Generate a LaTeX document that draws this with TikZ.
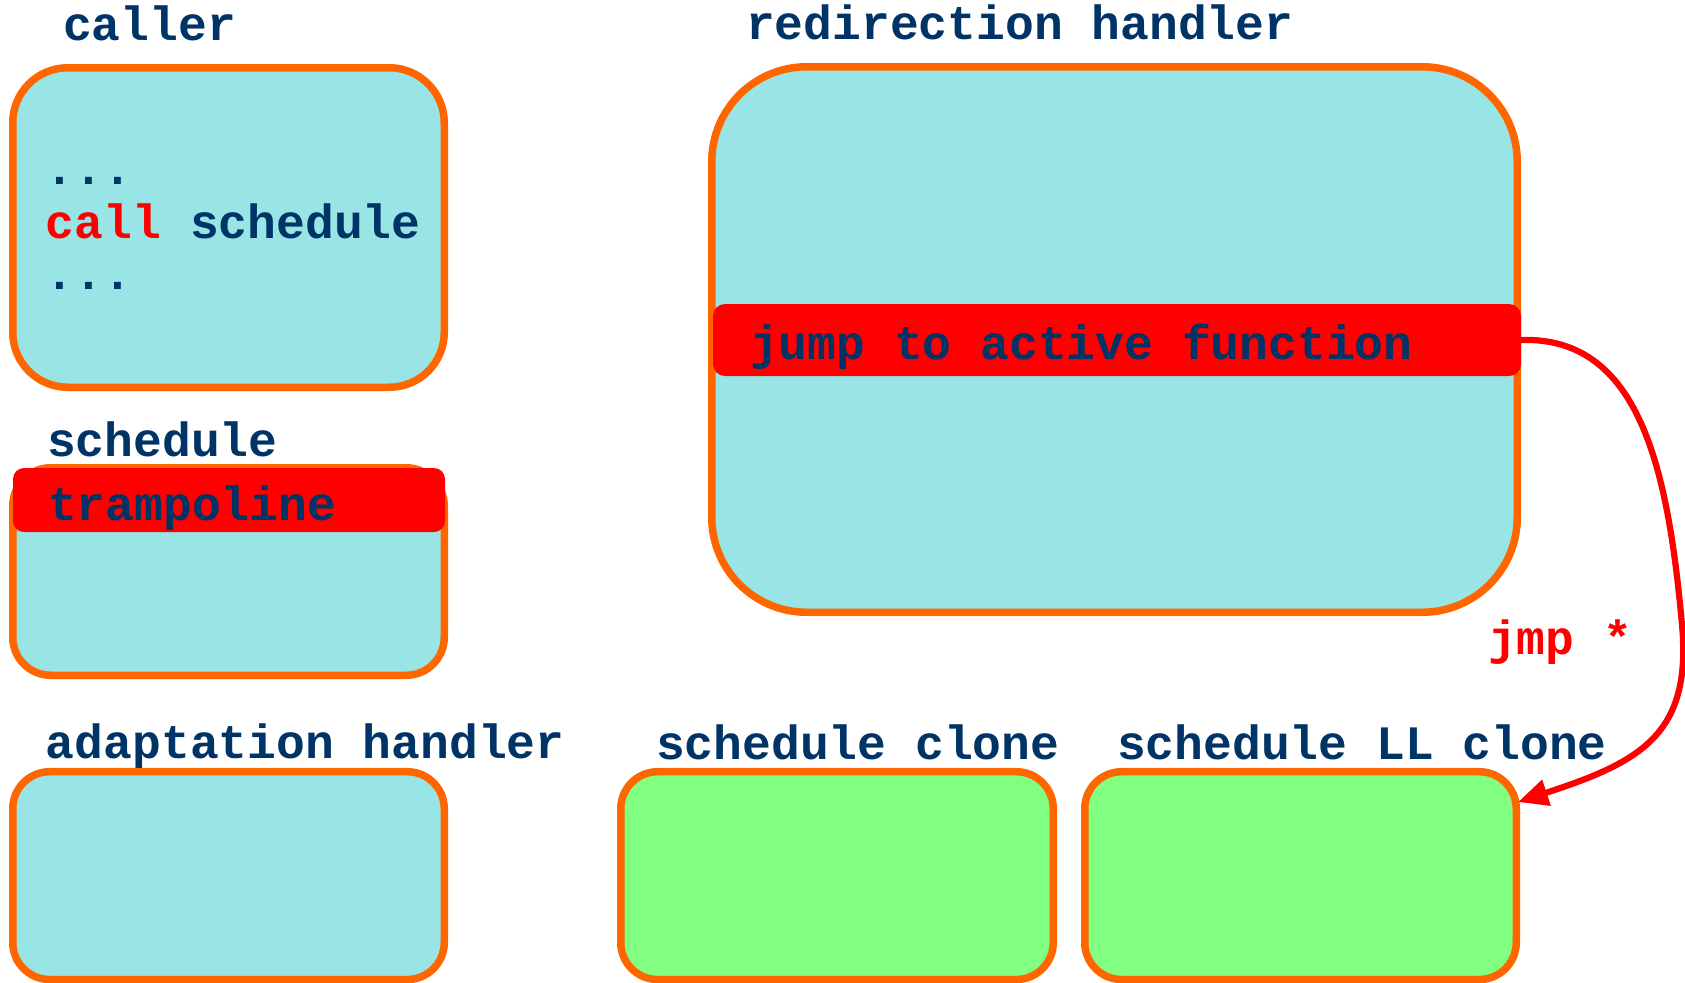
\documentclass[tikz,border=0pt]{standalone}
\usepackage{fontspec}
\setmonofont{Liberation Mono}
\usetikzlibrary{arrows.meta}

\definecolor{navy}{HTML}{003366}
\definecolor{boxcyan}{HTML}{99E5E5}
\definecolor{boxorange}{HTML}{FF6600}
\definecolor{boxgreen}{HTML}{80FF80}
\definecolor{hotred}{HTML}{FF0000}

\tikzset{
  codefont/.style={font=\ttfamily\bfseries\fontsize{24pt}{26pt}\selectfont},
  label/.style={codefont, text=navy, anchor=base west, inner sep=0pt, outer sep=0pt},
  block/.style={draw=boxorange, line width=3.75pt, rectangle, inner sep=0pt, outer sep=0pt},
  cyanblock/.style={block, fill=boxcyan},
  greenblock/.style={block, fill=boxgreen},
  redbar/.style={fill=hotred, rectangle, rounded corners=5.5pt, inner sep=0pt, outer sep=0pt},
  jumparrow/.style={draw=hotred, line width=3.1pt, -{Triangle[length=15pt,width=13pt]}}
}

\begin{document}
\begin{tikzpicture}[x=0.5pt, y=-0.5pt]
  \useasboundingbox (0,0) rectangle (1685,982);

  % code blocks
  \node[cyanblock, rounded corners=27.5pt, minimum width=215.75pt, minimum height=159.75pt] (caller) at (228.5,227.5) {};
  \node[cyanblock, rounded corners=19pt, minimum width=215.75pt, minimum height=103.75pt] (schedule) at (228.5,571.5) {};
  \node[cyanblock, rounded corners=47.5pt, minimum width=402.75pt, minimum height=272.75pt] (redirect) at (1114.5,339.5) {};
  \node[cyanblock, rounded corners=18.5pt, minimum width=215.75pt, minimum height=103.9pt] (adapt) at (228.5,875.6) {};
  \node[greenblock, rounded corners=18.5pt, minimum width=216.25pt, minimum height=103.9pt] (clone) at (837,875.6) {};
  \node[greenblock, rounded corners=18.5pt, minimum width=215.75pt, minimum height=103.9pt] (llclone) at (1300.5,875.6) {};

  % highlighted instructions
  \node[redbar, minimum width=216pt, minimum height=32pt] (tramp) at (229,500) {};
  \node[redbar, minimum width=404pt, minimum height=36pt, rounded corners=6pt] (jumpbar) at (1117,340) {};

  % titles
  \node[label] (callerlbl) at (63,40) {caller};
  \node[label] (redirectlbl) at (746,39) {redirection handler};
  \node[label] (schedlbl) at (47,456) {schedule};
  \node[label] (adaptlbl) at (46,758) {adaptation handler};
  \node[label] (clonelbl) at (656,759) {schedule clone};
  \node[label] (llclonelbl) at (1117,759) {schedule LL clone};

  % instructions
  \node[label] (code1) at (46,184) {...};
  \node[label] (code2) at (46,238) {\textcolor{hotred}{call} schedule};
  \node[label] (code3) at (46,289) {...};
  \node[label] (trampt) at (48,520) {trampoline};
  \node[label] (jumpt) at (750,359) {jump to active function};
  \node[label, text=hotred] (jmplbl) at (1488,654) {jmp *};

  % indirect jump into the active clone
  \coordinate (tip) at (1518,802);
  \coordinate (bend) at (1682,625);
  \draw[jumparrow] (jumpbar.east) .. controls (1640,336) and (1668,470) .. (bend)
                   .. controls (1692,735) and (1640,762) .. (tip);
\end{tikzpicture}
\end{document}
